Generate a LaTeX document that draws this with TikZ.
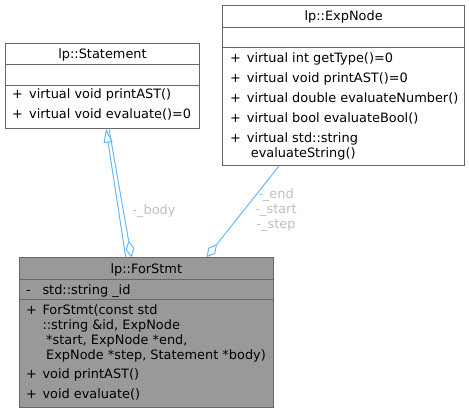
\documentclass[tikz,border=0pt]{standalone}
\usepackage{fontspec}
\setmainfont{DejaVu Sans}
\usetikzlibrary{arrows.meta, calc}
\definecolor{edgeblue}{HTML}{63B8FF}
\definecolor{boxgray}{HTML}{666666}
\definecolor{curfill}{HTML}{999999}
\definecolor{labelgray}{HTML}{BEBEBE}

\begin{document}
\begin{tikzpicture}[x=1pt, y=-1pt,
      cls/.style={rectangle, draw=boxgray, fill=white, line width=1pt, inner sep=0pt, anchor=north west},
      cur/.style={cls, fill=curfill},
      sep/.style={draw=boxgray, line width=1pt},
      ttl/.style={anchor=base, inner sep=0pt, font=\fontsize{12.9}{15}\selectfont},
      mem/.style={anchor=base west, inner sep=0pt, font=\fontsize{12.9}{15}\selectfont},
      lbl/.style={inner sep=0pt, align=center, text=labelgray, font=\fontsize{12.9}{15}\selectfont},
      inh/.style={{Triangle[open, length=14pt, width=9pt]}-, edgeblue, line width=1pt},
      comp/.style={-{Diamond[open, length=17pt, width=9pt]}, edgeblue, line width=1pt}
    ]
      \useasboundingbox (0,0) rectangle (469,412);

      \node[cls, minimum width=194pt, minimum height=85pt] (St) at (5,42.7) {};
      \draw[sep] ($(St.north west)+(0,22)$) -- ($(St.north east)+(0,22)$);
      \draw[sep] ($(St.north west)+(0,43)$) -- ($(St.north east)+(0,43)$);
      \node[ttl] (St-t) at ($(St.north)+(0,16.3)$) {lp::Statement};
      \node[mem] (St-s1) at ($(St.north west)+(7,55.6)$) {+};
      \node[mem] (St-m1) at ($(St.north west)+(24,55.6)$) {virtual void printAST()};
      \node[mem] (St-s2) at ($(St.north west)+(7,75.6)$) {+};
      \node[mem] (St-m2) at ($(St.north west)+(24,75.6)$) {virtual void evaluate()=0};

      \node[cls, minimum width=241.7pt, minimum height=160pt] (EN) at (222.3,5) {};
      \draw[sep] ($(EN.north west)+(0,23)$) -- ($(EN.north east)+(0,23)$);
      \draw[sep] ($(EN.north west)+(0,43)$) -- ($(EN.north east)+(0,43)$);
      \node[ttl] (EN-t) at ($(EN.north)+(0,16)$) {lp::ExpNode};
      \node[mem] (EN-s1) at ($(EN.north west)+(7.7,57.3)$) {+};
      \node[mem] (EN-m1) at ($(EN.north west)+(24.4,57.3)$) {virtual int getType()=0};
      \node[mem] (EN-s2) at ($(EN.north west)+(7.7,77.3)$) {+};
      \node[mem] (EN-m2) at ($(EN.north west)+(24.4,77.3)$) {virtual void printAST()=0};
      \node[mem] (EN-s3) at ($(EN.north west)+(7.7,97.3)$) {+};
      \node[mem] (EN-m3) at ($(EN.north west)+(24.4,97.3)$) {virtual double evaluateNumber()};
      \node[mem] (EN-s4) at ($(EN.north west)+(7.7,117.3)$) {+};
      \node[mem] (EN-m4) at ($(EN.north west)+(24.4,117.3)$) {virtual bool evaluateBool()};
      \node[mem] (EN-s5) at ($(EN.north west)+(7.7,137.3)$) {+};
      \node[mem] (EN-m5) at ($(EN.north west)+(24.4,137.3)$) {virtual std::string};
      \node[mem] (EN-m5b) at ($(EN.north west)+(28.4,152.3)$) {evaluateString()};

      \node[cur, minimum width=253.7pt, minimum height=149.4pt] (FS) at (19,257.3) {};
      \draw[sep] ($(FS.north west)+(0,22)$) -- ($(FS.north east)+(0,22)$);
      \draw[sep] ($(FS.north west)+(0,42)$) -- ($(FS.north east)+(0,42)$);
      \node[ttl] (FS-t) at ($(FS.north)+(0,16)$) {lp::ForStmt};
      \node[mem] (FS-a) at ($(FS.north west)+(7,36.7)$) {-};
      \node[mem] (FS-id) at ($(FS.north west)+(23.3,36.7)$) {std::string \_id};
      \node[mem] (FS-s1) at ($(FS.north west)+(7,56.7)$) {+};
      \node[mem] (FS-m1) at ($(FS.north west)+(23.3,56.7)$) {ForStmt(const std};
      \node[mem] (FS-m1b) at ($(FS.north west)+(23.3,71.7)$) {::string \&id, ExpNode};
      \node[mem] (FS-m1c) at ($(FS.north west)+(27,86.7)$) {*start, ExpNode *end,};
      \node[mem] (FS-m1d) at ($(FS.north west)+(27,101.7)$) {ExpNode *step, Statement *body)};
      \node[mem] (FS-s2) at ($(FS.north west)+(7,121.3)$) {+};
      \node[mem] (FS-m2) at ($(FS.north west)+(23.3,121.3)$) {void printAST()};
      \node[mem] (FS-s3) at ($(FS.north west)+(7,141.3)$) {+};
      \node[mem] (FS-m3) at ($(FS.north west)+(23.3,141.3)$) {void evaluate()};

      \draw[inh] ([xshift=101pt]St.south west) -- ([xshift=106.7pt]FS.north west);
      \draw[comp] ([xshift=104pt]St.south west) -- ([xshift=112.5pt]FS.north west);
      \draw[comp] ([xshift=56.7pt]EN.south west) -- ([xshift=187.5pt]FS.north west);

      \node[lbl] (body) at (154,211) {-\_body};
      \node[lbl] (ends) at (276,210) {-\_end\\-\_start\\-\_step};
    \end{tikzpicture}
\end{document}
